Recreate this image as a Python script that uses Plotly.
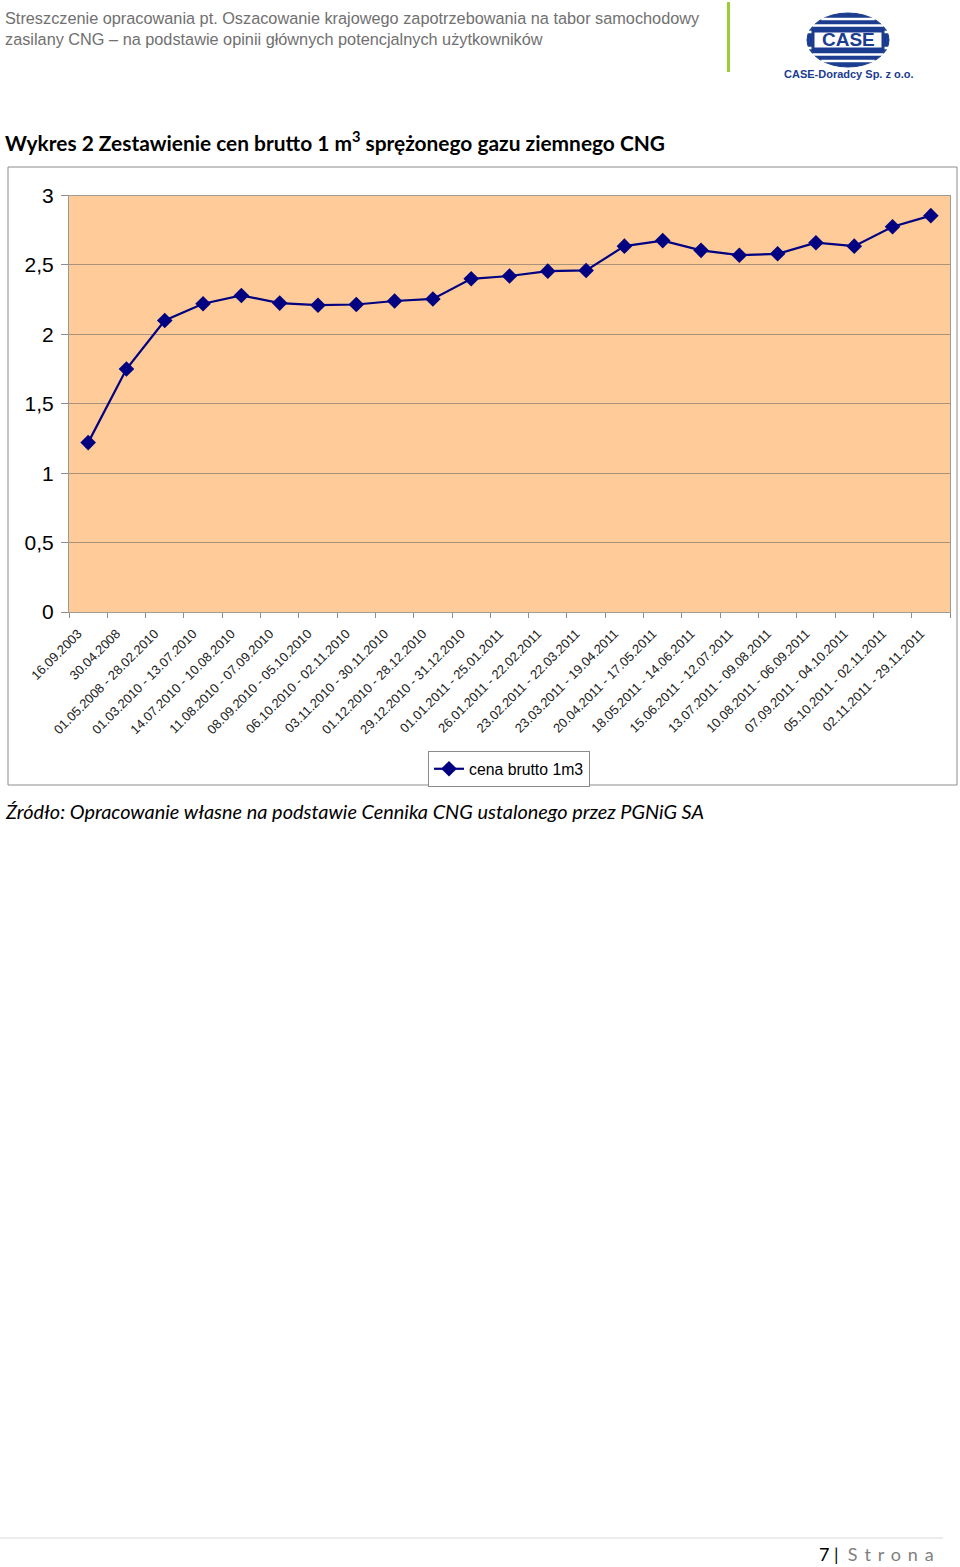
import math
import plotly.graph_objects as go

W, H = 960, 1567

categories = [
    "16.09.2003", "30.04.2008", "01.05.2008 - 28.02.2010", "01.03.2010 - 13.07.2010",
    "14.07.2010 - 10.08.2010", "11.08.2010 - 07.09.2010", "08.09.2010 - 05.10.2010",
    "06.10.2010 - 02.11.2010", "03.11.2010 - 30.11.2010", "01.12.2010 - 28.12.2010",
    "29.12.2010 - 31.12.2010", "01.01.2011 - 25.01.2011", "26.01.2011 - 22.02.2011",
    "23.02.2011 - 22.03.2011", "23.03.2011 - 19.04.2011", "20.04.2011 - 17.05.2011",
    "18.05.2011 - 14.06.2011", "15.06.2011 - 12.07.2011", "13.07.2011 - 09.08.2011",
    "10.08.2011 - 06.09.2011", "07.09.2011 - 04.10.2011", "05.10.2011 - 02.11.2011",
    "02.11.2011 - 29.11.2011",
]
prices = [1.22, 1.75, 2.10, 2.22, 2.28, 2.225, 2.21, 2.215, 2.24, 2.255, 2.40, 2.42,
          2.455, 2.46, 2.635, 2.675, 2.605, 2.57, 2.58, 2.66, 2.635, 2.775, 2.855]
series_name = "cena brutto 1m3"
y_ticks = [0, 0.5, 1, 1.5, 2, 2.5, 3]


def px(x):
    return x / W


def py(y):
    return 1 - y / H


fig = go.Figure()
fig.add_trace(go.Scatter(
    x=categories, y=prices, name=series_name, mode="lines+markers",
    line=dict(color="#000080", width=2.2),
    marker=dict(symbol="diamond", size=12, color="#000080"),
    showlegend=True,
))

shapes = []
# chart frame
shapes.append(dict(type="rect", xref="paper", yref="paper", x0=px(8), x1=px(957),
                   y0=py(785), y1=py(167), line=dict(color="#8c8c8c", width=1),
                   fillcolor="rgba(0,0,0,0)", layer="below"))
# green vertical separator
shapes.append(dict(type="line", xref="paper", yref="paper", x0=px(728.5), x1=px(728.5),
                   y0=py(72), y1=py(2), line=dict(color="#9ACD32", width=3)))
# footer line
shapes.append(dict(type="line", xref="paper", yref="paper", x0=px(0), x1=px(943),
                   y0=py(1538), y1=py(1538), line=dict(color="#d9d9d9", width=1)))

# logo
cx, cy, rx, ry = 848, 40, 41, 27
blue = "#1b3c8f"
shapes.append(dict(type="circle", xref="paper", yref="paper", x0=px(cx - rx), x1=px(cx + rx),
                   y0=py(cy + ry), y1=py(cy - ry), fillcolor=blue, line=dict(color=blue, width=1)))
for dy in [-21, -14.5, -8, 8, 14.5, 21]:
    hw = rx * math.sqrt(max(0.0, 1 - (dy / ry) ** 2))
    shapes.append(dict(type="line", xref="paper", yref="paper", x0=px(cx - hw - 1), x1=px(cx + hw + 1),
                       y0=py(cy + dy), y1=py(cy + dy), line=dict(color="white", width=2.5)))
shapes.append(dict(type="rect", xref="paper", yref="paper", x0=px(813), x1=px(883),
                   y0=py(49), y1=py(31), fillcolor="white", line=dict(color=blue, width=3)))

NB = "\u00a0"
GAP = "\u00a0\u2009"
annotations = [
    dict(text="Streszczenie opracowania pt. Oszacowanie krajowego zapotrzebowania na tabor samochodowy",
         x=px(3), y=py(18), xanchor="left", yanchor="middle",
         font=dict(family="Liberation Sans, Arial", size=16.3, color="#707070")),
    dict(text="zasilany CNG – na podstawie opinii głównych potencjalnych użytkowników",
         x=px(3), y=py(39), xanchor="left", yanchor="middle",
         font=dict(family="Liberation Sans, Arial", size=16.3, color="#707070")),
    dict(text="<b>CASE</b>", x=px(848), y=py(40), xanchor="center", yanchor="middle",
         font=dict(family="Liberation Sans, Arial", size=19, color=blue)),
    dict(text="<b>CASE-Doradcy Sp. z o.o.</b>", x=px(848.5), y=py(74), xanchor="center", yanchor="middle",
         font=dict(family="Liberation Sans, Arial", size=11, color=blue)),
    dict(text="<b>Wykres 2 Zestawienie cen brutto 1 m<sup>3</sup> sprężonego gazu ziemnego CNG</b>",
         x=px(3), y=py(142), xanchor="left", yanchor="middle",
         font=dict(family="Lato, Open Sans, sans-serif", size=20.9, color="#000000")),
    dict(text="<i>Źródło: Opracowanie własne na podstawie Cennika CNG ustalonego przez PGNiG SA</i>",
         x=px(3), y=py(811), xanchor="left", yanchor="middle",
         font=dict(family="Lato, Open Sans, sans-serif", size=19.9, color="#000000")),
    dict(text="7 |" + NB + " <span style='color:#7f7f7f'>" + GAP.join("Strona") + "</span>",
         x=px(936), y=py(1554), xanchor="right", yanchor="middle",
         font=dict(family="Lato, Open Sans, sans-serif", size=18, color="#000000")),
]
for a in annotations:
    a.update(xref="paper", yref="paper", showarrow=False)

fig.update_layout(
    width=W, height=H, autosize=False,
    margin=dict(l=0, r=0, t=0, b=0, pad=0, autoexpand=False),
    paper_bgcolor="white", plot_bgcolor="#FFCC99",
    separators=", ",
    font=dict(family="Liberation Sans, Arial", color="#000000"),
    shapes=shapes, annotations=annotations,
    xaxis=dict(domain=[px(69), px(950)], type="category", range=[-0.5, len(categories) - 0.5],
               autorange=False, tickangle=-45, automargin=False,
               tickson="boundaries", ticks="outside", ticklen=5, tickcolor="#8c8c8c",
               showline=True, linecolor="#a09a94", linewidth=1, mirror=True,
               showgrid=False, ticklabelstandoff=8, ticklabelshift=-10,
               tickfont=dict(size=13, color="#222222")),
    yaxis=dict(domain=[py(612), py(195.5)], range=[0, 3], autorange=False, tickvals=y_ticks,
               automargin=False, ticks="outside", ticklen=7, tickcolor="#8c8c8c",
               showline=True, linecolor="#a09a94", linewidth=1, mirror=True,
               showgrid=True, gridcolor="#a8927c", gridwidth=1, zeroline=False,
               ticklabelstandoff=3, tickfont=dict(size=21, color="#000000")),
    legend=dict(x=px(428), y=py(751), xanchor="left", yanchor="top",
                bordercolor="#8c8c8c", borderwidth=1, bgcolor="white",
                font=dict(size=15.8, color="#000000")),
)

fig.write_html(
    "out.html",
    config={"displayModeBar": False},
    post_script="document.body.style.margin='0';document.body.style.padding='0';"
                "document.body.style.overflow='hidden';document.documentElement.style.overflow='hidden';",
)
